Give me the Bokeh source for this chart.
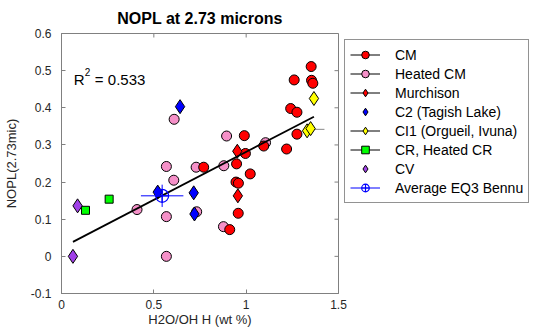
from bokeh.plotting import figure
from bokeh.models import Range1d, FixedTicker, Legend, LegendItem, Label
from bokeh.embed import file_html
from bokeh.resources import INLINE

# ---------------- data ----------------
cm_x = [1.352, 1.260, 1.354, 1.361, 1.241, 1.275, 1.275, 0.990, 1.095, 1.219,
        0.996, 0.948, 0.770, 1.022, 0.945, 0.958, 0.957, 0.911]
cm_y = [0.511, 0.475, 0.474, 0.466, 0.398, 0.388, 0.329, 0.325, 0.297, 0.289,
        0.277, 0.249, 0.240, 0.222, 0.200, 0.197, 0.116, 0.072]

hcm_x = [0.610, 0.894, 1.105, 0.568, 0.729, 0.879, 0.608, 0.409, 0.568, 0.732, 0.877, 0.568]
hcm_y = [0.369, 0.324, 0.306, 0.242, 0.240, 0.244, 0.205, 0.126, 0.107, 0.120, 0.080, 0.000]

murch_x = [0.952, 0.955]
murch_y = [0.283, 0.163]

c2_x = [0.642, 0.521, 0.716, 0.720]
c2_y = [0.403, 0.173, 0.171, 0.114]

ci1_x = [1.367, 1.330, 1.349]
ci1_y = [0.425, 0.338, 0.344]
ci1_err_x0 = [1.343]
ci1_err_x1 = [1.424]
ci1_err_y = [0.342]

cr_x = [0.130, 0.258]
cr_y = [0.124, 0.154]

cv_x = [0.087, 0.062]
cv_y = [0.136, 0.000]

bennu_x = [0.545]
bennu_y = [0.163]
bennu_xerr = [0.115]
bennu_yerr = [0.030]

fit_x = [0.062, 1.367]
fit_y = [0.039, 0.376]
r2_text = "0.533"

x_ticks = [0, 0.5, 1, 1.5]
x_tick_labels = {0: "0", 0.5: "0.5", 1: "1", 1.5: "1.5"}
y_ticks = [-0.1, 0, 0.1, 0.2, 0.3, 0.4, 0.5, 0.6]
y_tick_labels = {-0.1: "-0.1", 0: "0", 0.1: "0.1", 0.2: "0.2", 0.3: "0.3",
                 0.4: "0.4", 0.5: "0.5", 0.6: "0.6"}

X_MIN, X_MAX = 0, 1.5
Y_MIN, Y_MAX = -0.1, 0.6

# ---------------- styling ----------------
FONT = "Liberation Sans"
AX = "#808080"
TXT = "#262626"
RED = "#ff0000"
PINK = "#f590c8"
BLUE = "#0000ff"
YELLOW = "#ffff00"
GREEN = "#00ff00"
PURPLE = "#a040e8"

FRAME_W, FRAME_H = 277, 260
TICK_PX = 4

p = figure(frame_width=FRAME_W, frame_height=FRAME_H,
           x_range=Range1d(X_MIN, X_MAX), y_range=Range1d(Y_MIN, Y_MAX),
           output_backend="svg", toolbar_location=None,
           min_border_left=0, min_border_right=0, min_border_top=0, min_border_bottom=0,
           title="NOPL at 2.73 microns")
p.title.text_font = FONT
p.title.text_font_size = "16px"
p.title.text_font_style = "bold"
p.title.align = "center"
p.title.text_color = "black"
p.title.padding = 4
p.title.standoff = 6
p.grid.visible = False
p.outline_line_color = AX
p.outline_line_width = 1
p.background_fill_color = "white"
p.border_fill_color = "white"

xax = p.below[0]
yax = p.left[0]
for ax, ticks, labs in [(xax, x_ticks, x_tick_labels), (yax, y_ticks, y_tick_labels)]:
    ax.ticker = FixedTicker(ticks=ticks)
    ax.major_label_overrides = labs
    ax.axis_line_color = AX
    ax.major_tick_line_color = AX
    ax.major_tick_in = TICK_PX
    ax.major_tick_out = 0
    ax.minor_tick_line_color = None
    ax.major_label_text_font = FONT
    ax.major_label_text_font_size = "12px"
    ax.major_label_text_color = TXT
    ax.axis_label_text_font = FONT
    ax.axis_label_text_font_size = "13px"
    ax.axis_label_text_font_style = "normal"
    ax.axis_label_text_color = TXT

xax.major_label_standoff = 6
xax.axis_label = "H2O/OH H (wt %)"
xax.axis_label_standoff = 0
yax.major_label_standoff = 10
yax.axis_label = "NOPL(2.73mic)"
yax.axis_label_standoff = 9

# inward tick marks on the top and right edges of the box (MATLAB "box on")
dx = TICK_PX * (X_MAX - X_MIN) / FRAME_W
dy = TICK_PX * (Y_MAX - Y_MIN) / FRAME_H
p.segment(x0=x_ticks, y0=[Y_MAX] * len(x_ticks), x1=x_ticks, y1=[Y_MAX - dy] * len(x_ticks),
          line_color=AX, line_width=1)
p.segment(x0=[X_MAX] * len(y_ticks), y0=y_ticks, x1=[X_MAX - dx] * len(y_ticks), y1=y_ticks,
          line_color=AX, line_width=1)

# ---------------- glyphs ----------------
p.segment(x0=ci1_err_x0, y0=ci1_err_y, x1=ci1_err_x1, y1=ci1_err_y, line_color="#888888", line_width=1)

r_hcm = p.scatter(hcm_x, hcm_y, marker="circle", size=10, fill_color=PINK, line_color="black", line_width=1)
r_cm = p.scatter(cm_x, cm_y, marker="circle", size=10, fill_color=RED, line_color="black", line_width=1)
r_mu = p.scatter(murch_x, murch_y, marker="diamond", size=14, fill_color=RED, line_color="black", line_width=1)
r_c2 = p.scatter(c2_x, c2_y, marker="diamond", size=14, fill_color=BLUE, line_color="black", line_width=1)
r_ci = p.scatter(ci1_x, ci1_y, marker="diamond", size=14, fill_color=YELLOW, line_color="black", line_width=1)
r_cr = p.scatter(cr_x, cr_y, marker="square", size=8, fill_color=GREEN, line_color="black", line_width=1)
r_cv = p.scatter(cv_x, cv_y, marker="diamond", size=14, fill_color=PURPLE, line_color="black", line_width=1)

p.line(fit_x, fit_y, line_color="black", line_width=1.8)

bx0 = [x - e for x, e in zip(bennu_x, bennu_xerr)]
bx1 = [x + e for x, e in zip(bennu_x, bennu_xerr)]
by0 = [y - e for y, e in zip(bennu_y, bennu_yerr)]
by1 = [y + e for y, e in zip(bennu_y, bennu_yerr)]
p.segment(x0=bx0, y0=bennu_y, x1=bx1, y1=bennu_y, line_color=BLUE, line_width=1)
p.segment(x0=bennu_x, y0=by0, x1=bennu_x, y1=by1, line_color=BLUE, line_width=1)
r_be = p.scatter(bennu_x, bennu_y, marker="circle_cross", size=13, fill_color=None, line_color=BLUE, line_width=1.2)

# legend swatch lines (a single NaN point: invisible in the plot, drawn in the legend)
nan = float("nan")
lk = p.line([nan], [nan], line_color="black", line_width=1)
lb = p.line([nan], [nan], line_color=BLUE, line_width=1)

items = [
    LegendItem(label="CM", renderers=[lk, r_cm]),
    LegendItem(label="Heated CM", renderers=[lk, r_hcm]),
    LegendItem(label="Murchison", renderers=[lk, r_mu]),
    LegendItem(label="C2 (Tagish Lake)", renderers=[r_c2]),
    LegendItem(label="CI1 (Orgueil, Ivuna)", renderers=[lk, r_ci]),
    LegendItem(label="CR, Heated CR", renderers=[lk, r_cr]),
    LegendItem(label="CV", renderers=[r_cv]),
    LegendItem(label="Average EQ3 Bennu", renderers=[lb, r_be]),
]
legend = Legend(items=items, location="top_left", padding=5, spacing=0,
                glyph_width=30, glyph_height=19, label_standoff=15, label_height=16,
                label_text_font=FONT, label_text_font_size="14px", label_text_color="black",
                border_line_color="#262626", border_line_width=1,
                background_fill_color="white", background_fill_alpha=1, margin=6)
p.add_layout(legend, "right")

# R^2 annotation
p.add_layout(Label(x=0.067, y=0.477, text="R", text_font=FONT, text_font_size="15px",
                   text_baseline="alphabetic", text_color="black"))
p.add_layout(Label(x=0.067, y=0.477, x_offset=11, y_offset=7, text="2", text_font=FONT,
                   text_font_size="10px", text_baseline="alphabetic", text_color="black"))
p.add_layout(Label(x=0.067, y=0.477, x_offset=21, text="= " + r2_text, text_font=FONT,
                   text_font_size="15px", text_baseline="alphabetic", text_color="black"))

open("out.html", "w").write(file_html(p, INLINE))
